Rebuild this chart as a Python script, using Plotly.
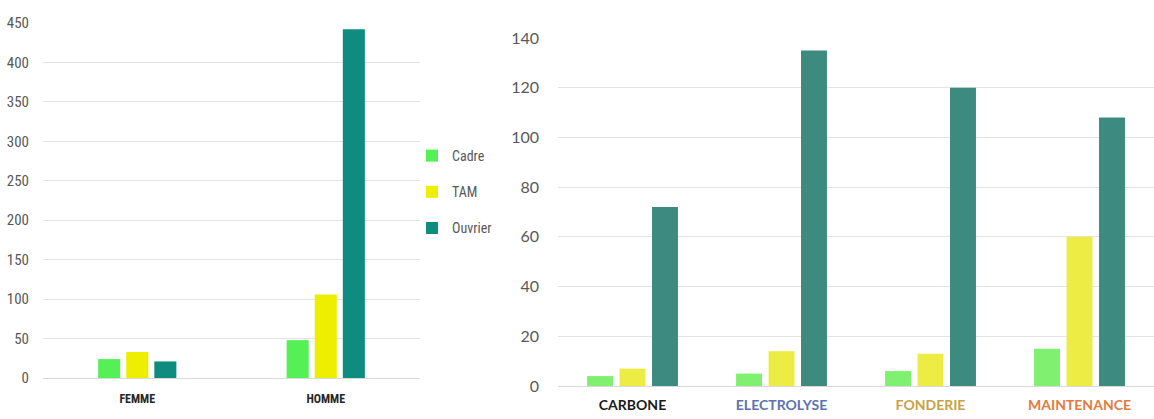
import plotly.graph_objects as go

# Effectifs par sexe
sexes = ["FEMME", "HOMME"]
sexe_cadre = [24, 48]
sexe_tam = [33, 106]
sexe_ouvrier = [21, 442]

# Effectifs par secteur
secteurs = ["CARBONE", "ELECTROLYSE", "FONDERIE", "MAINTENANCE"]
secteur_couleurs = ["#1a1a1a", "#5b74b0", "#c9a043", "#e27b3c"]
secteur_cadre = [4, 5, 6, 15]
secteur_tam = [7, 14, 13, 60]
secteur_ouvrier = [72, 135, 120, 108]

left_y_ticks = [0, 50, 100, 150, 200, 250, 300, 350, 400, 450]
right_y_ticks = [0, 20, 40, 60, 80, 100, 120, 140]

W, H = 1154, 419
NARROW = "Liberation Sans Narrow, Arial Narrow, Roboto Condensed, sans-serif"
CALIBRI = "Lato, Carlito, Calibri, sans-serif"

fig = go.Figure()

left_colors = {"Cadre": "#55f055", "TAM": "#eeee00", "Ouvrier": "#0e8c80"}
right_colors = {"Cadre": "#80f070", "TAM": "#ecec45", "Ouvrier": "#3d8a80"}

# bar width and pitch, in category units
LEFT_W, LEFT_P = 0.117, 0.149
RIGHT_W, RIGHT_P = 0.174, 0.218

for i, (name, vals) in enumerate([("Cadre", sexe_cadre), ("TAM", sexe_tam), ("Ouvrier", sexe_ouvrier)]):
    fig.add_trace(go.Bar(
        x=sexes, y=vals, name=name, legendgroup=name,
        width=LEFT_W, offset=(i - 1) * LEFT_P - LEFT_W / 2,
        marker=dict(color=left_colors[name], line=dict(width=0)),
        xaxis="x", yaxis="y",
    ))

for i, (name, vals) in enumerate([("Cadre", secteur_cadre), ("TAM", secteur_tam), ("Ouvrier", secteur_ouvrier)]):
    fig.add_trace(go.Bar(
        x=secteurs, y=vals, name=name, legendgroup=name, showlegend=False,
        width=RIGHT_W, offset=(i - 1) * RIGHT_P - RIGHT_W / 2,
        marker=dict(color=right_colors[name], line=dict(width=0)),
        xaxis="x2", yaxis="y2",
    ))

secteur_labels = [
    f"<span style='color:{c}'><b>{s}</b></span>" for s, c in zip(secteurs, secteur_couleurs)
]

fig.update_layout(
    width=W, height=H,
    margin=dict(l=0, r=0, t=0, b=0, autoexpand=False),
    paper_bgcolor="white", plot_bgcolor="white",
    barmode="overlay",
    showlegend=True,
    legend=dict(
        x=412 / W, y=1 - 140 / H, xanchor="left", yanchor="top",
        font=dict(family=NARROW, size=14, color="#595959"),
        tracegroupgap=15, itemwidth=30,
        bgcolor="rgba(0,0,0,0)",
    ),
    xaxis=dict(
        domain=[43 / W, 420 / W], anchor="y", automargin=False,
        range=[-0.5, 1.5],
        tickmode="array", tickvals=sexes,
        ticktext=[f"<b>{s}</b>" for s in sexes],
        tickfont=dict(family=NARROW, size=12, color="#262626"),
        showgrid=False, showline=False, ticks="", ticklabelstandoff=12,
    ),
    yaxis=dict(
        domain=[1 - 378 / H, 1 - 23 / H], anchor="x", automargin=False,
        range=[0, 450], tickvals=left_y_ticks,
        tickfont=dict(family=NARROW, size=15, color="#595959"),
        showgrid=True, gridcolor="#e3e3e3", gridwidth=1,
        zeroline=True, zerolinecolor="#d9d9d9", zerolinewidth=1,
        showline=False, ticks="", ticklabelstandoff=13,
    ),
    xaxis2=dict(
        domain=[558 / W, 1.0], anchor="y2", automargin=False,
        range=[-0.5, 3.5],
        tickmode="array", tickvals=secteurs, ticktext=secteur_labels,
        tickfont=dict(family=CALIBRI, size=14),
        showgrid=False, showline=False, ticks="", ticklabelstandoff=9,
    ),
    yaxis2=dict(
        domain=[1 - 386 / H, 1 - 38 / H], anchor="x2", automargin=False,
        range=[0, 140], tickvals=right_y_ticks,
        tickfont=dict(family=CALIBRI, size=16, color="#595959"),
        showgrid=True, gridcolor="#e3e3e3", gridwidth=1,
        zeroline=True, zerolinecolor="#d9d9d9", zerolinewidth=1,
        showline=False, ticks="", ticklabelstandoff=18,
    ),
)

fig.write_html("out.html")
